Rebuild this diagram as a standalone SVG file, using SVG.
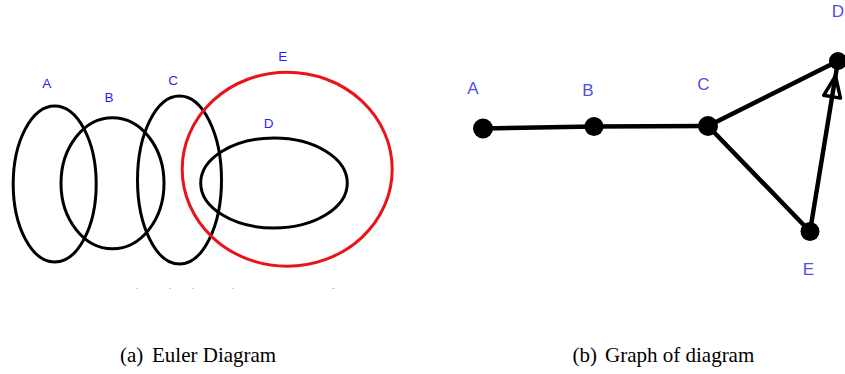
<svg xmlns="http://www.w3.org/2000/svg" width="845" height="374" viewBox="0 0 845 374">
  <style>
    .set { fill: none; stroke: #000; stroke-width: 3; }
    .setE { fill: none; stroke: #e8141a; stroke-width: 3; }
    .elbl { font-family: "Liberation Sans", Arial, sans-serif; font-size: 13.5px; fill: #1f1fff; text-anchor: middle; }
    .glbl { font-family: "Liberation Sans", Arial, sans-serif; font-size: 17px; fill: #5050e6; text-anchor: middle; }
    .node { fill: #000; }
    .edge { stroke: #000; stroke-width: 4.5; fill: none; stroke-linecap: round; }
    .cap { font-family: "Liberation Serif", "Times New Roman", serif; font-size: 21px; fill: #000; }
    .speck { fill: #cfcfcf; }
  </style>
  <defs>
    <marker id="openTri" viewBox="0 0 28 24" refX="25" refY="12" markerWidth="28" markerHeight="24" markerUnits="userSpaceOnUse" orient="auto">
      <polygon points="25,12 4,3.5 4,20.5" fill="none" stroke="#000" stroke-width="3.5" stroke-linejoin="round"/>
    </marker>
  </defs>
  <rect width="845" height="374" fill="#fff"/>

  <!-- (a) Euler diagram -->
  <g id="euler">
    <g id="set-A"><ellipse class="set" cx="54.7" cy="184" rx="41.5" ry="78"/><text class="elbl" x="46.7" y="88.3">A</text></g>
    <g id="set-B"><ellipse class="set" cx="112.5" cy="183.3" rx="51.5" ry="65.5"/><text class="elbl" x="109" y="101.7">B</text></g>
    <g id="set-C"><ellipse class="set" cx="179.5" cy="180" rx="42" ry="84"/><text class="elbl" x="173" y="85">C</text></g>
    <g id="set-E"><ellipse class="setE" cx="287.2" cy="169.2" rx="105" ry="97"/><text class="elbl" x="282.7" y="60.7">E</text></g>
    <g id="set-D"><ellipse class="set" cx="274" cy="183" rx="73.3" ry="45"/><text class="elbl" x="268.7" y="128">D</text></g>
    <g id="specks">
      <rect class="speck" x="136" y="288" width="2" height="1"/>
      <rect class="speck" x="169" y="288" width="2" height="1"/>
      <rect class="speck" x="192" y="288" width="2" height="1"/>
      <rect class="speck" x="232" y="288" width="2" height="1"/>
      <rect class="speck" x="332" y="288" width="3" height="1"/>
    </g>
  </g>

  <!-- (b) Graph -->
  <g id="connectors">
    <line class="edge" x1="483" y1="128.5" x2="594" y2="126.5"/>
    <line class="edge" x1="594" y1="126.5" x2="708" y2="126"/>
    <line class="edge" x1="708" y1="126" x2="838" y2="61"/>
    <line class="edge" x1="708" y1="126" x2="810" y2="231.5"/>
    <path class="edge" d="M810,231.5 L835.5,76 L838,61" marker-mid="url(#openTri)"/>
  </g>
  <g id="node-A"><circle class="node" cx="483" cy="128.5" r="10"/><text class="glbl" x="473" y="94">A</text></g>
  <g id="node-B"><circle class="node" cx="594" cy="126.5" r="9.5"/><text class="glbl" x="588" y="96">B</text></g>
  <g id="node-C"><circle class="node" cx="708" cy="126" r="10"/><text class="glbl" x="703.5" y="89.5">C</text></g>
  <g id="node-D"><circle class="node" cx="838" cy="61" r="9"/><text class="glbl" x="838" y="16.5">D</text></g>
  <g id="node-E"><circle class="node" cx="810" cy="231.5" r="9.5"/><text class="glbl" x="808.5" y="275">E</text></g>

  <!-- captions -->
  <text class="cap" y="362"><tspan x="120">(a)</tspan><tspan x="152">Euler Diagram</tspan></text>
  <text class="cap" y="362"><tspan x="572.5">(b)</tspan><tspan x="605">Graph of diagram</tspan></text>
</svg>
